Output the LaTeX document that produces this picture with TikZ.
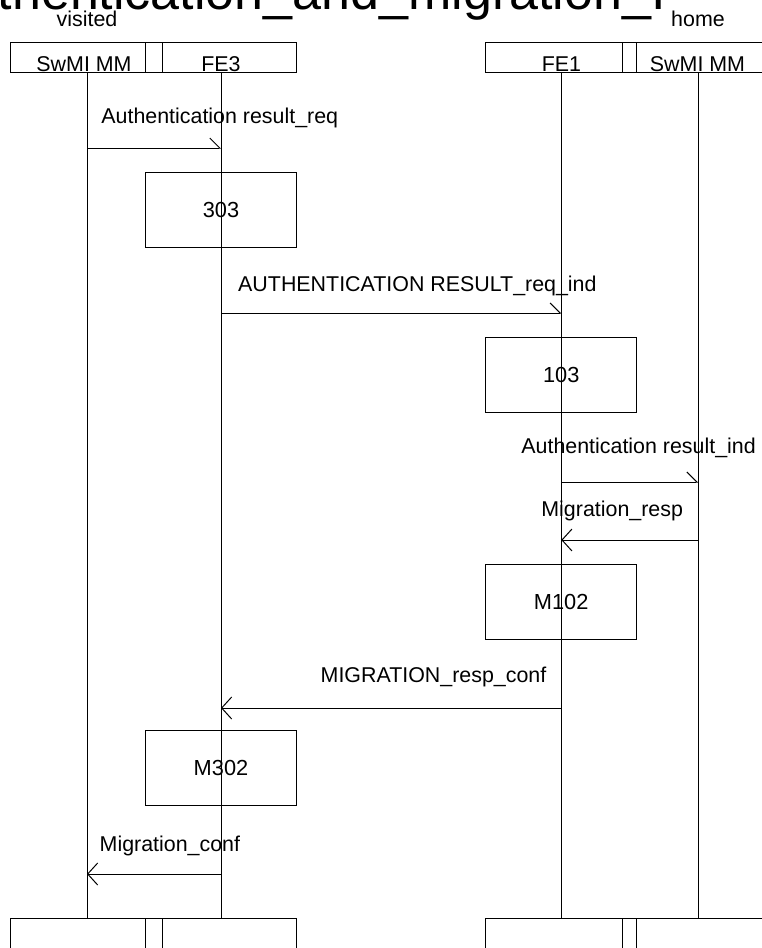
\documentclass[tikz,border=0pt]{standalone}
\usepackage{fontspec}
\setmainfont{Liberation Sans}
\usetikzlibrary{arrows.meta}
\begin{document}
\begin{tikzpicture}[x=1pt,y=-1pt,
  lbl/.style={font=\fontsize{21.4}{25}\selectfont, inner sep=0pt, anchor=base west},
  ctxt/.style={font=\fontsize{21.4}{25}\selectfont, inner sep=0pt, anchor=base},
  hbox/.style={draw, line width=1pt, inner sep=0pt, minimum height=30pt},
  actbox/.style={draw, line width=1pt, minimum width=151pt, minimum height=75pt, inner sep=0pt, font=\fontsize{21.8}{25}\selectfont},
  life/.style={line width=1pt},
  msgR/.style={line width=1pt, -{Straight Barb[left,length=10pt,width=20pt]}},
  msgL/.style={line width=1pt, -{Straight Barb[length=10pt,width=22pt]}},
]
\clip (0,0) rectangle (762,948);
% title
\node[font=\fontsize{52}{60}\selectfont, inner sep=0pt, anchor=base west] (title) at (-66,9) {Authentication\_and\_migration\_I};
\node[ctxt] (visited) at (87,26) {visited};
\node[ctxt] (home) at (698,26) {home};
% header boxes
\node[hbox, minimum width=134.3pt] (hv) at (78,57) {};
\node[hbox, minimum width=17pt] (hvs) at (153.8,57) {};
\node[hbox, minimum width=134pt] (hf3) at (229.2,57) {};
\node[hbox, minimum width=137.3pt] (hf1) at (553.7,57) {};
\node[hbox, minimum width=14.4pt] (hhs) at (629.5,57) {};
\node[hbox, minimum width=143pt] (hh) at (708.2,57) {};
\node[ctxt] (tv) at (84,71) {SwMI MM};
\node[ctxt] (tf3) at (221,71) {FE3};
\node[ctxt] (tf1) at (561.5,71) {FE1};
\node[ctxt] (th) at (697.5,71) {SwMI MM};
% footer boxes
\node[hbox, minimum width=134.3pt] (fv) at (78,933.7) {};
\node[hbox, minimum width=17pt] (fvs) at (153.8,933.7) {};
\node[hbox, minimum width=134pt] (ff3) at (229.2,933.7) {};
\node[hbox, minimum width=137.3pt] (ff1) at (553.7,933.7) {};
\node[hbox, minimum width=14.4pt] (fhs) at (629.5,933.7) {};
\node[hbox, minimum width=143pt] (fh) at (708.2,933.7) {};
% lifelines
\coordinate (vT) at (87,72);   \coordinate (vB) at (87,918.7);
\coordinate (f3T) at (221,72); \coordinate (f3B) at (221,918.7);
\coordinate (f1T) at (561.3,72); \coordinate (f1B) at (561.3,918.7);
\coordinate (hT) at (698,72);  \coordinate (hB) at (698,918.7);
\draw[life] (vT) -- (vB);
\draw[life] (f3T) -- (f3B);
\draw[life] (f1T) -- (f1B);
\draw[life] (hT) -- (hB);
% action boxes
\node[actbox] (b303) at (221,209.5) {303};
\node[actbox] (b103) at (561.2,374.8) {103};
\node[actbox] (bM102) at (561.2,601.8) {M102};
\node[actbox] (bM302) at (221,767.5) {M302};
% messages
\node[lbl] (t1) at (101.2,123) {Authentication result\_req};
\draw[msgR] (vT |- 0,148) -- (f3T |- 0,148);
\node[lbl] (t2) at (238,291) {AUTHENTICATION RESULT\_req\_ind};
\draw[msgR] (f3T |- 0,313) -- (f1T |- 0,313);
\node[lbl] (t3) at (521.2,453.3) {Authentication result\_ind};
\draw[msgR] (f1T |- 0,482) -- (hT |- 0,482);
\node[lbl] (t4) at (541.2,516.7) {Migration\_resp};
\draw[msgL] (hT |- 0,540) -- (f1T |- 0,540);
\node[lbl] (t5) at (320.5,682) {MIGRATION\_resp\_conf};
\draw[msgL] (f1T |- 0,708) -- (f3T |- 0,708);
\node[lbl] (t6) at (99.5,851) {Migration\_conf};
\draw[msgL] (f3T |- 0,874) -- (vT |- 0,874);
\end{tikzpicture}
\end{document}
